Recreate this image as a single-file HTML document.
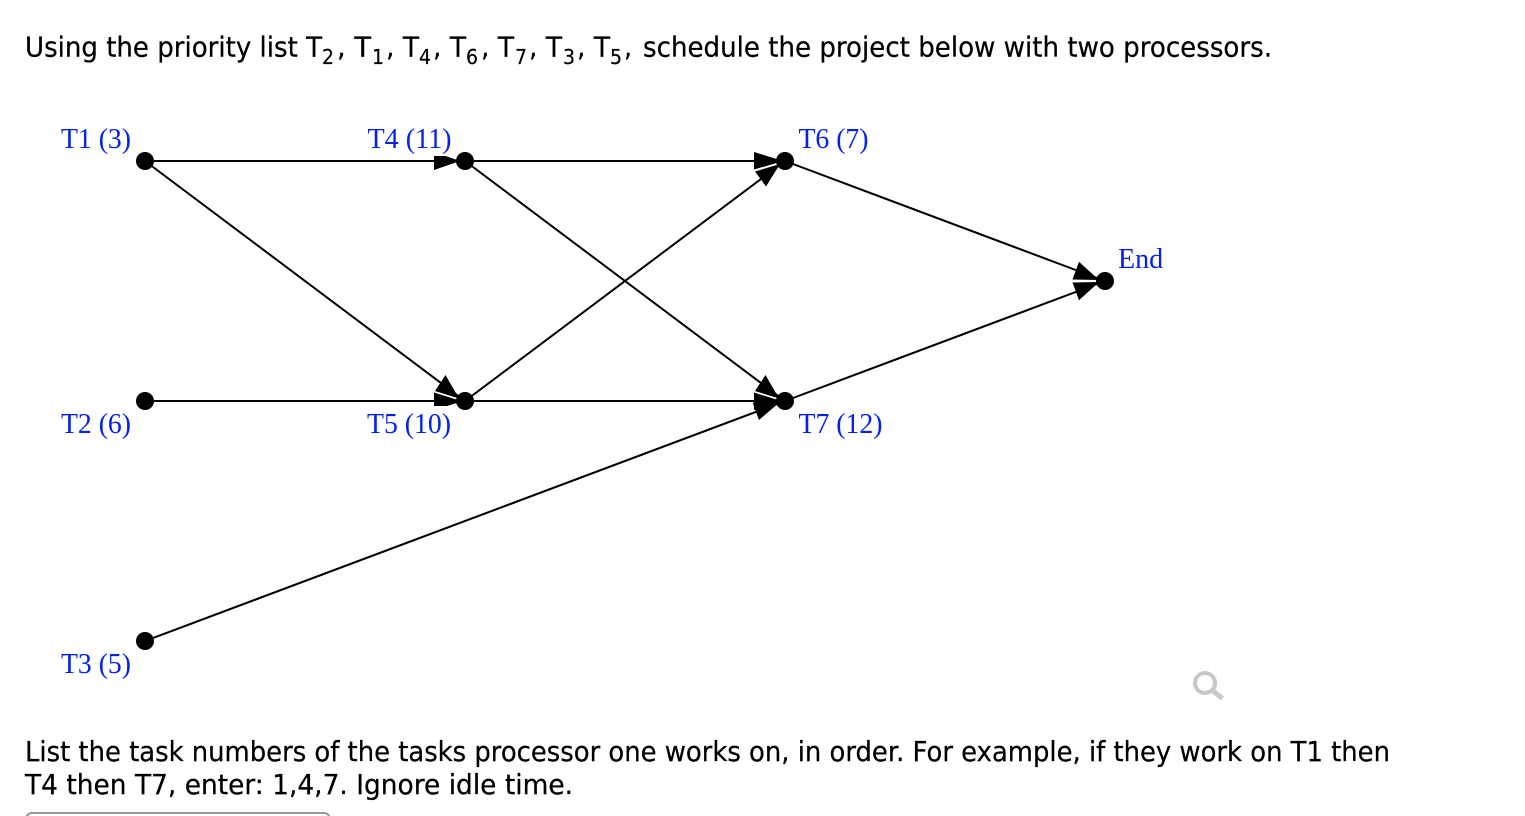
<!DOCTYPE html>
<html>
<head>
<meta charset="utf-8">
<style>
html,body{margin:0;padding:0;background:#fff;width:1525px;height:816px;overflow:hidden}
svg{display:block}
.t{font-family:"DejaVu Sans","Liberation Sans",sans-serif;font-size:28px;fill:#000;stroke:#000;stroke-width:.25}
.s{font-family:"DejaVu Sans","Liberation Sans",sans-serif;font-size:20px;fill:#000;stroke:#000;stroke-width:.2}
.l{font-family:"Liberation Serif",serif;font-size:28px;fill:#0420ee}
</style>
</head>
<body>
<svg width="1525" height="816" viewBox="0 0 1525 816" xmlns="http://www.w3.org/2000/svg">
<rect width="1525" height="816" fill="#fff"/>

<text class="t" x="25" y="56.5" textLength="297" lengthAdjust="spacingAndGlyphs">Using the priority list T</text>
<text class="s" x="322" y="64" textLength="12" lengthAdjust="spacingAndGlyphs">2</text>
<text class="t" x="337" y="56.5" textLength="34" lengthAdjust="spacingAndGlyphs">, T</text>
<text class="s" x="372" y="64" textLength="12" lengthAdjust="spacingAndGlyphs">1</text>
<text class="t" x="386" y="56.5" textLength="33" lengthAdjust="spacingAndGlyphs">, T</text>
<text class="s" x="419" y="64" textLength="12" lengthAdjust="spacingAndGlyphs">4</text>
<text class="t" x="433" y="56.5" textLength="33" lengthAdjust="spacingAndGlyphs">, T</text>
<text class="s" x="466" y="64" textLength="12" lengthAdjust="spacingAndGlyphs">6</text>
<text class="t" x="481" y="56.5" textLength="33" lengthAdjust="spacingAndGlyphs">, T</text>
<text class="s" x="515" y="64" textLength="12" lengthAdjust="spacingAndGlyphs">7</text>
<text class="t" x="529" y="56.5" textLength="33" lengthAdjust="spacingAndGlyphs">, T</text>
<text class="s" x="563" y="64" textLength="12" lengthAdjust="spacingAndGlyphs">3</text>
<text class="t" x="577" y="56.5" textLength="33" lengthAdjust="spacingAndGlyphs">, T</text>
<text class="s" x="610" y="64" textLength="12" lengthAdjust="spacingAndGlyphs">5</text>
<text class="t" x="624" y="56.5" textLength="8" lengthAdjust="spacingAndGlyphs">,</text>
<text class="t" x="643" y="56.5" textLength="629" lengthAdjust="spacingAndGlyphs">schedule the project below with two processors.</text>

<g stroke="#000" stroke-width="2" fill="none">
<line x1="145" y1="161" x2="465" y2="161"/>
<line x1="465" y1="161" x2="785" y2="161"/>
<line x1="145" y1="161" x2="465" y2="401"/>
<line x1="465" y1="161" x2="785" y2="401"/>
<line x1="145" y1="401" x2="785" y2="401"/>
<line x1="465" y1="401" x2="785" y2="161"/>
<line x1="785" y1="161" x2="1105" y2="281"/>
<line x1="785" y1="401" x2="1105" y2="281"/>
<line x1="145" y1="641" x2="785" y2="401"/>
</g>

<g fill="#000">
<!-- into T4 -->
<polygon points="434,152 460,161 434,170"/>
<!-- into T6 -->
<polygon points="755,171.5 766,186.5 780,164"/>
<polygon points="754,152 780,160 780,162 754,169.5"/>
<!-- into T5 -->
<polygon points="434,392.5 434,410 460,402 458,400"/>
<polygon points="435,391 445.5,375 459,398.5"/>
<!-- into T7 -->
<polygon points="754,392.5 754,410 780,402 778,400"/>
<polygon points="759,420 752.7,402.7 780,402"/>
<polygon points="755,391 765.5,375 779,398.5"/>
<!-- into End -->
<polygon points="1072.5,279.5 1079,261.7 1099,280"/>
<polygon points="1072.5,282.5 1079,300.3 1099,282"/>
</g>

<!-- label backgrounds -->
<rect x="366" y="126" width="88" height="30" fill="#fff"/>
<rect x="366" y="406" width="88" height="30" fill="#fff"/>

<g fill="#000">
<circle cx="145" cy="161" r="9"/>
<circle cx="465" cy="161" r="9"/>
<circle cx="785" cy="161" r="9"/>
<circle cx="145" cy="401" r="9"/>
<circle cx="465" cy="401" r="9"/>
<circle cx="785" cy="401" r="9"/>
<circle cx="1105" cy="281" r="9"/>
<circle cx="145" cy="641" r="9"/>
</g>

<text class="l" x="61" y="148" textLength="70" lengthAdjust="spacingAndGlyphs">T1 (3)</text>
<text class="l" x="367.5" y="148" textLength="84" lengthAdjust="spacingAndGlyphs">T4 (11)</text>
<text class="l" x="798.5" y="148" textLength="70" lengthAdjust="spacingAndGlyphs">T6 (7)</text>
<text class="l" x="1118" y="268">End</text>
<text class="l" x="61" y="433" textLength="70" lengthAdjust="spacingAndGlyphs">T2 (6)</text>
<text class="l" x="367" y="433" textLength="84" lengthAdjust="spacingAndGlyphs">T5 (10)</text>
<text class="l" x="798.5" y="433" textLength="84" lengthAdjust="spacingAndGlyphs">T7 (12)</text>
<text class="l" x="61" y="673" textLength="70" lengthAdjust="spacingAndGlyphs">T3 (5)</text>

<circle cx="1205" cy="683" r="10" fill="none" stroke="#c8c8c8" stroke-width="4"/>
<line x1="1212" y1="690" x2="1222.5" y2="698.5" stroke="#c8c8c8" stroke-width="5"/>

<text class="t" x="25" y="761" textLength="1365" lengthAdjust="spacingAndGlyphs">List the task numbers of the tasks processor one works on, in order. For example, if they work on T1 then</text>
<text class="t" x="25" y="794" textLength="548" lengthAdjust="spacingAndGlyphs">T4 then T7, enter: 1,4,7. Ignore idle time.</text>

<rect x="26" y="813" width="304" height="20" rx="6" ry="6" fill="#fff" stroke="#999" stroke-width="2"/>
</svg>
</body>
</html>
